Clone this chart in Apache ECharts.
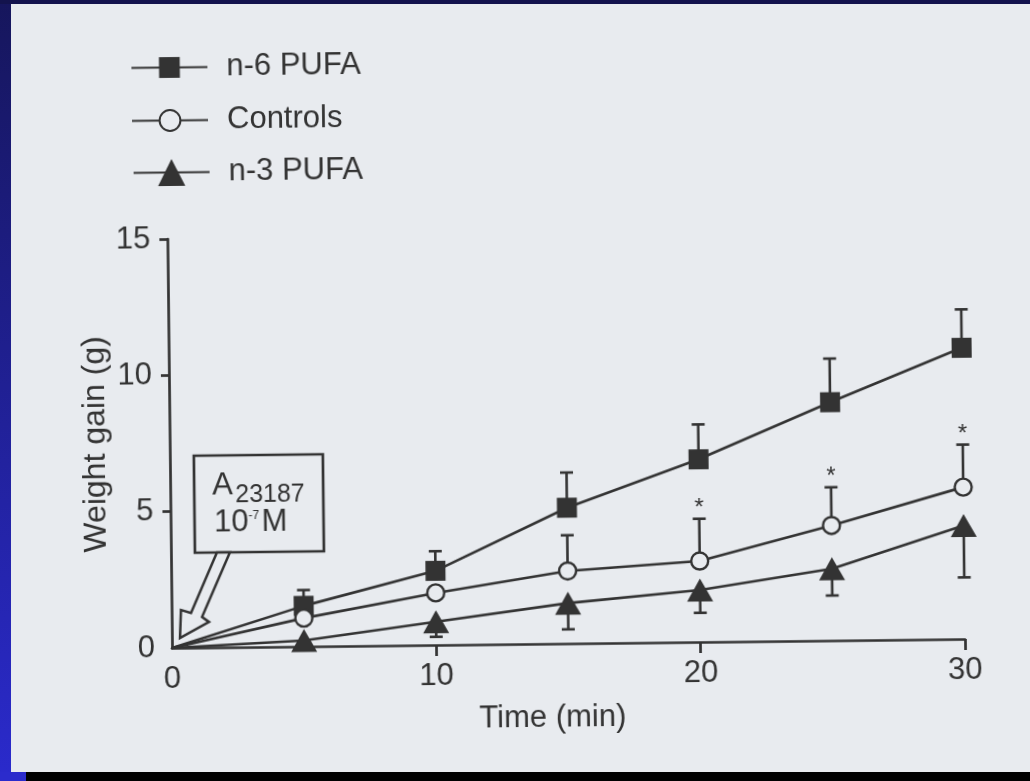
<!DOCTYPE html>
<html>
<head>
<meta charset="utf-8">
<script src="https://cdn.jsdelivr.net/npm/echarts@6/dist/echarts.min.js"></script>
<style>
  html, body { margin: 0; padding: 0; width: 1030px; height: 781px; overflow: hidden; background: #000; }
  .band { position: absolute; }
  #paper { left: 11px; top: 4px; width: 1019px; height: 768px; background: #e8ebef; }
  #edgeLeft { left: 0; top: 0; width: 11px; height: 772px; background: linear-gradient(#16165c, #2a2acb); }
  #edgeTop { left: 0; top: 0; width: 1030px; height: 4px; background: #13134d; }
  #edgeCorner { left: 0; top: 772px; width: 26px; height: 9px; background: #2b2bcc; }
  /* the printed figure sits slightly askew on the slide */
  #chart { position: absolute; left: 0; top: 0; width: 1030px; height: 781px;
           transform: rotate(-0.65deg); transform-origin: 172px 648px; }
</style>
</head>
<body>
<div class="band" id="paper"></div>
<div class="band" id="edgeLeft"></div>
<div class="band" id="edgeTop"></div>
<div class="band" id="edgeCorner"></div>
<div id="chart"></div>
<script>
// Sampling times (min)
const times = [0, 5, 10, 15, 20, 25, 30];

// Mean weight gain (g) per group
const n6Mean      = [0, 1.49, 2.72, 4.98, 6.70, 8.74, 10.68];
const controlMean = [0, 1.04, 1.91, 2.66, 2.97, 4.22, 5.57];
const n3Mean      = [0, 0.22, 0.85, 1.48, 1.91, 2.63, 4.16];

// Error bar lengths (g); null = no bar drawn
const n6Err      = [null, 0.58, 0.72, 1.29, 1.28, 1.60, 1.41];
const controlErr = [null, null, null, 1.31, 1.55, 1.40, 1.56];
const n3Err      = [null, null, 0.55, 0.96, 0.84, 0.98, 1.90];

// Significance markers (*) on the control group
const controlSig = [false, false, false, false, true, true, true];

// Axis ticks
const xTicks = [0, 10, 20, 30];
const yTicks = [0, 5, 10, 15];

const INK = '#333333';
const PAPER = '#e8ebef';
const FONT = '"Liberation Sans", Arial, Helvetica, sans-serif';
const LW = 2.6;

function toPoints(means) {
  return times.map((t, i) => i === 0 ? { value: [t, means[i]], symbol: 'none' } : [t, means[i]]);
}

// rows: [time, mean, end of bar, significant]
function errorRows(means, errs, dir, sig) {
  const rows = [];
  times.forEach((t, i) => {
    if (errs[i] == null) return;
    rows.push([t, means[i], means[i] + dir * errs[i], sig && sig[i] ? 1 : 0]);
  });
  return rows;
}

function renderErrorBar(params, api) {
  const x = api.value(0);
  const p0 = api.coord([x, api.value(1)]);
  const p1 = api.coord([x, api.value(2)]);
  const half = 6.5;
  const lineStyle = { stroke: INK, lineWidth: LW };
  const children = [
    { type: 'line', shape: { x1: p0[0], y1: p0[1], x2: p1[0], y2: p1[1] }, style: lineStyle },
    { type: 'line', shape: { x1: p1[0] - half, y1: p1[1], x2: p1[0] + half, y2: p1[1] }, style: lineStyle }
  ];
  if (api.value(3)) {
    children.push({
      type: 'text', x: p1[0], y: p1[1] - 10,
      style: { text: '*', fontSize: 24, fontFamily: FONT, fill: INK,
               align: 'center', verticalAlign: 'middle' }
    });
  }
  return { type: 'group', children: children };
}

const axisText = { fontFamily: FONT, fontSize: 31, color: INK };
const legendText = { fontFamily: FONT, fontSize: 31, color: INK, padding: [0, 0, 0, 14] };

function legendFor(name, left, top, h) {
  return {
    data: [name], left: left, top: top, padding: 0,
    itemWidth: 76, itemHeight: h, selectedMode: false,
    textStyle: legendText
  };
}

function boxText(text, x, y, size) {
  return {
    type: 'text', x: x, y: y, z: 101,
    style: { text: text, fontFamily: FONT, fontSize: size, fill: INK,
             align: 'left', verticalAlign: 'middle', textAlign: 'left', textVerticalAlign: 'middle' }
  };
}

const chart = echarts.init(document.getElementById('chart'), null, { renderer: 'canvas' });

chart.setOption({
  animation: false,
  backgroundColor: 'transparent',
  grid: { left: 172, top: 239, width: 793, height: 409, containLabel: false, outerBoundsMode: 'none' },
  legend: [
    legendFor('n-6 PUFA', 137, 52, 26),
    legendFor('Controls', 137, 105, 26),
    legendFor('n-3 PUFA', 138, 157, 34)
  ],
  xAxis: {
    type: 'value', min: xTicks[0], max: xTicks[xTicks.length - 1], interval: 10,
    name: 'Time (min)', nameLocation: 'middle', nameGap: 59, nameMoveOverlap: false,
    nameTextStyle: Object.assign({}, axisText, { padding: [0, 33, 0, 0] }),
    axisLine: { lineStyle: { color: INK, width: 2.7 } },
    axisTick: { length: 11, customValues: xTicks.slice(1), lineStyle: { color: INK, width: 2.7 } },
    axisLabel: Object.assign({ margin: 16, customValues: xTicks }, axisText),
    splitLine: { show: false }
  },
  yAxis: {
    type: 'value', min: yTicks[0], max: yTicks[yTicks.length - 1], interval: 5,
    name: 'Weight gain (g)', nameLocation: 'middle', nameGap: 58, nameMoveOverlap: false,
    nameTextStyle: Object.assign({}, axisText, { fontSize: 32 }),
    axisLine: { show: true, lineStyle: { color: INK, width: 2.7 } },
    axisTick: { show: true, length: 8, customValues: yTicks.slice(1), lineStyle: { color: INK, width: 2.7 } },
    axisLabel: Object.assign({ margin: 17, customValues: yTicks, padding: [7, 0, 0, 0] }, axisText),
    splitLine: { show: false }
  },
  series: [
    {
      type: 'custom', name: 'n-6 err', z: 1, renderItem: renderErrorBar,
      encode: { x: 0, y: [1, 2] }, data: errorRows(n6Mean, n6Err, 1)
    },
    {
      type: 'custom', name: 'control err', z: 1, renderItem: renderErrorBar,
      encode: { x: 0, y: [1, 2] }, data: errorRows(controlMean, controlErr, 1, controlSig)
    },
    {
      type: 'custom', name: 'n-3 err', z: 1, renderItem: renderErrorBar,
      encode: { x: 0, y: [1, 2] }, data: errorRows(n3Mean, n3Err, -1)
    },
    {
      name: 'n-6 PUFA', type: 'line', z: 3, data: toPoints(n6Mean),
      symbol: 'rect', symbolSize: 20,
      lineStyle: { color: INK, width: LW },
      itemStyle: { color: INK }
    },
    {
      name: 'Controls', type: 'line', z: 4, data: toPoints(controlMean),
      symbol: 'circle', symbolSize: 17,
      lineStyle: { color: INK, width: LW },
      itemStyle: { color: PAPER, borderColor: INK, borderWidth: 2.4 }
    },
    {
      name: 'n-3 PUFA', type: 'line', z: 5, data: toPoints(n3Mean),
      symbol: 'triangle', symbolSize: [26, 23],
      lineStyle: { color: INK, width: LW },
      itemStyle: { color: INK }
    }
  ],
  graphic: [
    {
      type: 'rect', z: 100,
      shape: { x: 196, y: 456, width: 129, height: 97 },
      style: { fill: PAPER, stroke: INK, lineWidth: 2.7 }
    },
    {
      type: 'polygon', z: 100,
      shape: { points: [[218, 553], [231, 553], [202.4, 617.3], [209.3, 622.4],
                        [180.1, 638.1], [181.4, 610.1], [191.4, 613.2]] },
      style: { fill: PAPER, stroke: INK, lineWidth: 2.5, lineJoin: 'miter' }
    },
    boxText('A', 214, 486, 31),
    boxText('23187', 237, 496, 25),
    boxText('10', 215.5, 523, 31),
    boxText('-7', 250, 517, 12),
    boxText('M', 263, 523, 31)
  ]
});
</script>
</body>
</html>
